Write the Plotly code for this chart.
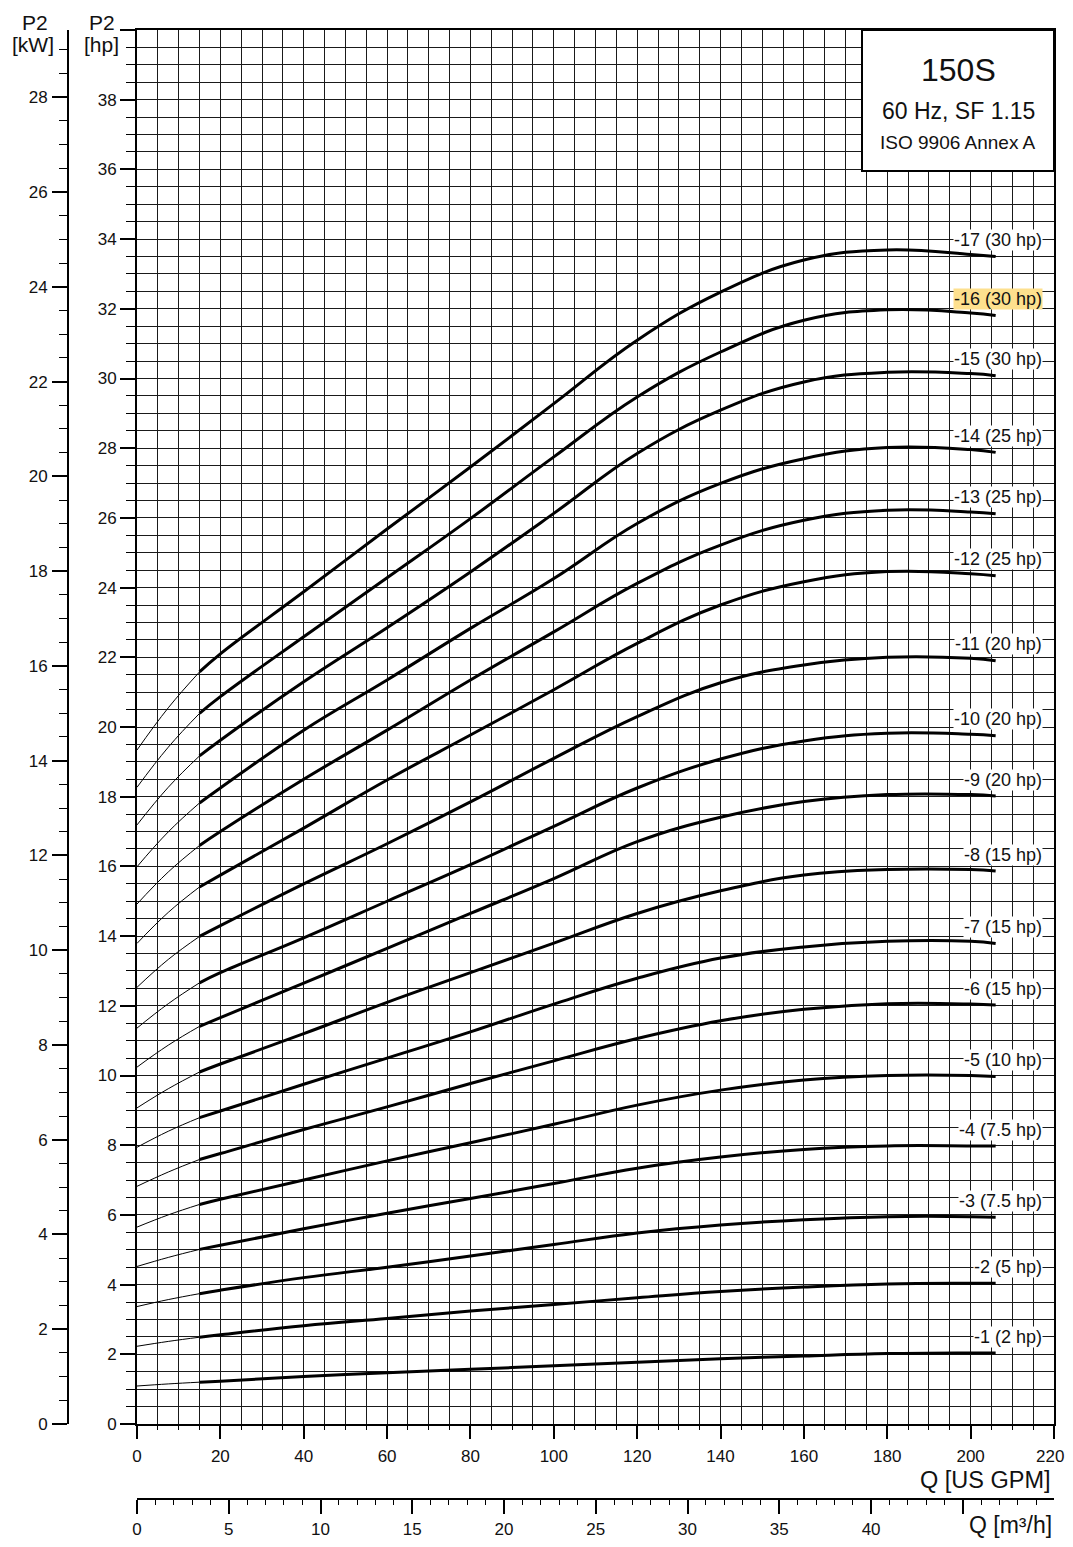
import plotly.graph_objects as go

# ---------------- data ----------------
GPM_THIN = [0, 7.5, 15]
GPM = [15, 20, 40, 60, 80, 100, 120, 140, 160, 180, 200, 206]

STAGE_LABELS = ["-1 (2 hp)", "-2 (5 hp)", "-3 (7.5 hp)", "-4 (7.5 hp)", "-5 (10 hp)",
                "-6 (15 hp)", "-7 (15 hp)", "-8 (15 hp)", "-9 (20 hp)", "-10 (20 hp)",
                "-11 (20 hp)", "-12 (25 hp)", "-13 (25 hp)", "-14 (25 hp)", "-15 (30 hp)",
                "-16 (30 hp)", "-17 (30 hp)"]

THIN_1 = [1.09, 1.15, 1.20]
THIN_2 = [2.23, 2.37, 2.49]
THIN_3 = [3.37, 3.57, 3.74]
THIN_4 = [4.52, 4.78, 5.01]
THIN_5 = [5.65, 6.00, 6.30]
THIN_6 = [6.82, 7.23, 7.59]
THIN_7 = [7.94, 8.40, 8.79]
THIN_8 = [9.07, 9.62, 10.10]
THIN_9 = [10.24, 10.87, 11.41]
THIN_10 = [11.36, 12.06, 12.66]
THIN_11 = [12.53, 13.33, 13.99]
THIN_12 = [13.79, 14.68, 15.41]
THIN_13 = [14.92, 15.84, 16.60]
THIN_14 = [15.99, 16.99, 17.82]
THIN_15 = [17.19, 18.27, 19.17]
THIN_16 = [18.27, 19.42, 20.39]
THIN_17 = [19.34, 20.55, 21.58]

P2_1 = [1.20, 1.23, 1.36, 1.47, 1.57, 1.67, 1.77, 1.87, 1.95, 2.02, 2.04, 2.04]
P2_2 = [2.49, 2.56, 2.82, 3.03, 3.24, 3.43, 3.62, 3.80, 3.93, 4.02, 4.04, 4.04]
P2_3 = [3.74, 3.84, 4.20, 4.50, 4.82, 5.15, 5.48, 5.71, 5.86, 5.95, 5.95, 5.93]
P2_4 = [5.01, 5.13, 5.60, 6.05, 6.47, 6.90, 7.34, 7.66, 7.88, 7.98, 7.98, 7.98]
P2_5 = [6.30, 6.45, 7.00, 7.55, 8.07, 8.60, 9.15, 9.58, 9.87, 10.00, 10.00, 9.97]
P2_6 = [7.59, 7.76, 8.45, 9.10, 9.77, 10.42, 11.06, 11.57, 11.90, 12.06, 12.05, 12.02]
P2_7 = [8.79, 8.98, 9.75, 10.50, 11.25, 12.05, 12.79, 13.37, 13.69, 13.85, 13.85, 13.79]
P2_8 = [10.10, 10.33, 11.20, 12.10, 12.95, 13.80, 14.65, 15.30, 15.75, 15.91, 15.91, 15.87]
P2_9 = [11.41, 11.66, 12.65, 13.65, 14.65, 15.65, 16.71, 17.41, 17.86, 18.06, 18.06, 18.02]
P2_10 = [12.66, 12.95, 13.95, 15.00, 16.05, 17.15, 18.25, 19.08, 19.60, 19.82, 19.79, 19.75]
P2_11 = [13.99, 14.30, 15.50, 16.65, 17.85, 19.10, 20.30, 21.27, 21.78, 22.00, 21.97, 21.90]
P2_12 = [15.41, 15.75, 17.10, 18.48, 19.77, 21.07, 22.40, 23.50, 24.17, 24.46, 24.40, 24.34]
P2_13 = [16.60, 17.00, 18.50, 19.91, 21.35, 22.73, 24.12, 25.22, 25.93, 26.22, 26.17, 26.12]
P2_14 = [17.82, 18.25, 19.91, 21.35, 22.83, 24.26, 25.84, 26.99, 27.70, 28.02, 27.96, 27.88]
P2_15 = [19.17, 19.62, 21.30, 22.85, 24.45, 26.13, 27.85, 29.09, 29.90, 30.18, 30.14, 30.08]
P2_16 = [20.39, 20.87, 22.59, 24.28, 25.98, 27.75, 29.47, 30.76, 31.67, 31.97, 31.88, 31.81]
P2_17 = [21.58, 22.10, 23.88, 25.68, 27.46, 29.28, 31.10, 32.48, 33.40, 33.69, 33.56, 33.50]

THIN = [THIN_1, THIN_2, THIN_3, THIN_4, THIN_5, THIN_6, THIN_7, THIN_8, THIN_9,
        THIN_10, THIN_11, THIN_12, THIN_13, THIN_14, THIN_15, THIN_16, THIN_17]
THICK = [P2_1, P2_2, P2_3, P2_4, P2_5, P2_6, P2_7, P2_8, P2_9,
         P2_10, P2_11, P2_12, P2_13, P2_14, P2_15, P2_16, P2_17]

X_TICKS = list(range(0, 221, 20))
HP_TICKS = list(range(0, 41, 2))
KW_TICKS = list(range(0, 29, 2))
M3H_TICKS = list(range(0, 46, 5))

HIGHLIGHT = "-16 (30 hp)"

GPM_PER_M3H = 4.40287
HP_PER_KW = 1.3596

# ---------------- layout geometry (page pixels; body has an 8px margin) ----------------
OFF = 8
W, H = 1073 - 2 * OFF, 1547 - 2 * OFF   # no page overflow -> no scrollbars
ML, MR, MT, MB = 2, 11, 22, 40
PW, PH = W - ML - MR, H - MT - MB


def px(x):
    return (x - OFF - ML) / PW


def py(y):
    return (H - MB - (y - OFF)) / PH


XDOM = [px(137), 1.0]
YDOM = [py(1424), 1.0]

FONT = "Liberation Sans, Arial, sans-serif"
BLACK = "#000000"
GRID = "#1a1a1a"
TXT = "#111111"

fig = go.Figure()

for thin, thick in zip(THIN, THICK):
    fig.add_trace(go.Scatter(x=GPM_THIN, y=thin, mode="lines",
                             line=dict(color=BLACK, width=1, shape="spline", smoothing=1.2),
                             hoverinfo="skip", showlegend=False))
    fig.add_trace(go.Scatter(x=GPM, y=thick, mode="lines",
                             line=dict(color=BLACK, width=3, shape="spline", smoothing=1.2),
                             hoverinfo="skip", showlegend=False))

# invisible traces so that the secondary axes are drawn
fig.add_trace(go.Scatter(x=[0], y=[0], xaxis="x2", yaxis="y", mode="markers",
                         marker=dict(opacity=0), hoverinfo="skip", showlegend=False))
fig.add_trace(go.Scatter(x=[0], y=[0], xaxis="x", yaxis="y2", mode="markers",
                         marker=dict(opacity=0), hoverinfo="skip", showlegend=False))

tickfont = dict(family=FONT, size=17, color=TXT)

# the last GPM label sits at the very edge of the page; it is drawn as a
# right-aligned annotation so that it is not clipped
X_TICKTEXT = [str(v) if v < X_TICKS[-1] else "" for v in X_TICKS]

fig.update_layout(
    width=W, height=H,
    margin=dict(l=ML, r=MR, t=MT, b=MB, autoexpand=False),
    paper_bgcolor="white", plot_bgcolor="white",
    font=dict(family=FONT, color=TXT),
    xaxis=dict(domain=XDOM, anchor="y", range=[0, 220],
               tickmode="array", tickvals=X_TICKS, ticktext=X_TICKTEXT,
               ticks="outside", ticklen=13, tickwidth=1.5, tickcolor=BLACK,
               showline=True, linewidth=2, linecolor=BLACK, mirror=True,
               showgrid=True, gridcolor=GRID, gridwidth=1, zeroline=False,
               minor=dict(dtick=5, tick0=0, ticks="outside", ticklen=4, tickwidth=1,
                          tickcolor=BLACK, showgrid=True, gridcolor=GRID, gridwidth=1),
               tickfont=tickfont, ticklabelstandoff=3, ticklabeloverflow="allow",
               fixedrange=True),
    xaxis2=dict(domain=XDOM, overlaying="x", anchor="free", position=0, side="bottom",
                range=[0, 220 / GPM_PER_M3H],
                tickmode="array", tickvals=M3H_TICKS,
                ticktext=[str(v) if v < 45 else "" for v in M3H_TICKS],
                ticks="outside", ticklen=14, tickwidth=1.5, tickcolor=BLACK,
                showline=True, linewidth=2, linecolor=BLACK, showgrid=False, zeroline=False,
                minor=dict(dtick=1, tick0=0, ticks="outside", ticklen=5, tickwidth=1,
                           tickcolor=BLACK, showgrid=False),
                tickfont=tickfont, ticklabelstandoff=1, ticklabeloverflow="allow",
                fixedrange=True),
    yaxis=dict(domain=YDOM, anchor="x", range=[0, 40],
               tickmode="array", tickvals=HP_TICKS,
               ticktext=[str(v) if v < 40 else "" for v in HP_TICKS],
               ticks="outside", ticklen=15, tickwidth=1.5, tickcolor=BLACK,
               showline=True, linewidth=2, linecolor=BLACK, mirror=True,
               showgrid=True, gridcolor=GRID, gridwidth=1, zeroline=False,
               minor=dict(dtick=0.5, tick0=0, ticks="outside", ticklen=9, tickwidth=1,
                          tickcolor=BLACK, showgrid=True, gridcolor=GRID, gridwidth=1),
               tickfont=tickfont, ticklabelstandoff=0, fixedrange=True),
    yaxis2=dict(domain=YDOM, overlaying="y", anchor="free", position=px(68), side="left",
                range=[0, 40 / HP_PER_KW],
                tickmode="array", tickvals=KW_TICKS,
                ticks="outside", ticklen=15, tickwidth=1.5, tickcolor=BLACK,
                showline=True, linewidth=2, linecolor=BLACK, showgrid=False, zeroline=False,
                minor=dict(dtick=0.5, tick0=0, ticks="outside", ticklen=8, tickwidth=1,
                           tickcolor=BLACK, showgrid=False),
                tickfont=tickfont, ticklabelstandoff=1, fixedrange=True),
)

# info box (top right)
fig.add_shape(type="rect", xref="paper", yref="paper",
              x0=px(862), x1=px(1054), y0=py(171), y1=py(30),
              line=dict(color=BLACK, width=2), fillcolor="white", layer="above")

annotations = [
    dict(text="150S", x=px(958), y=py(70), size=32),
    dict(text="60 Hz, SF 1.15", x=px(958), y=py(111), size=23),
    dict(text="ISO 9906 Annex A", x=px(958), y=py(143), size=19),
    dict(text="P2", x=px(35), y=py(22), size=21),
    dict(text="[kW]", x=px(33), y=py(45), size=21),
    dict(text="P2", x=px(102), y=py(22), size=21),
    dict(text="[hp]", x=px(101), y=py(45), size=21),
]
for a in annotations:
    fig.add_annotation(text=a["text"], x=a["x"], y=a["y"], xref="paper", yref="paper",
                       xanchor="center", yanchor="middle", showarrow=False,
                       font=dict(family=FONT, size=a["size"], color=TXT))

fig.add_annotation(text=str(X_TICKS[-1]), x=1.0 + MR / PW, y=py(1456),
                   xref="paper", yref="paper", xanchor="right", yanchor="middle",
                   showarrow=False, borderpad=0, font=tickfont)

fig.add_annotation(text="Q [US GPM]", x=px(1053), y=py(1480), xref="paper", yref="paper",
                   xanchor="right", yanchor="middle", showarrow=False,
                   font=dict(family=FONT, size=23.5, color=TXT))
fig.add_annotation(text="Q [m³/h]", x=px(1053), y=py(1539), xref="paper", yref="paper",
                   xanchor="right", yanchor="bottom", showarrow=False, borderpad=0,
                   font=dict(family=FONT, size=23, color=TXT))

# curve labels just above the end of each curve
LABEL_X = (1043 - 137) / (1054 - 137) * 220
for lab, thick in zip(STAGE_LABELS, THICK):
    fig.add_annotation(text=lab, x=LABEL_X, y=thick[-1] + 0.47, xref="x", yref="y",
                       xanchor="right", yanchor="middle", showarrow=False,
                       bgcolor="#fde08e" if lab == HIGHLIGHT else "white",
                       borderpad=0,
                       font=dict(family=FONT, size=18, color=TXT))

fig.write_html("out.html")
